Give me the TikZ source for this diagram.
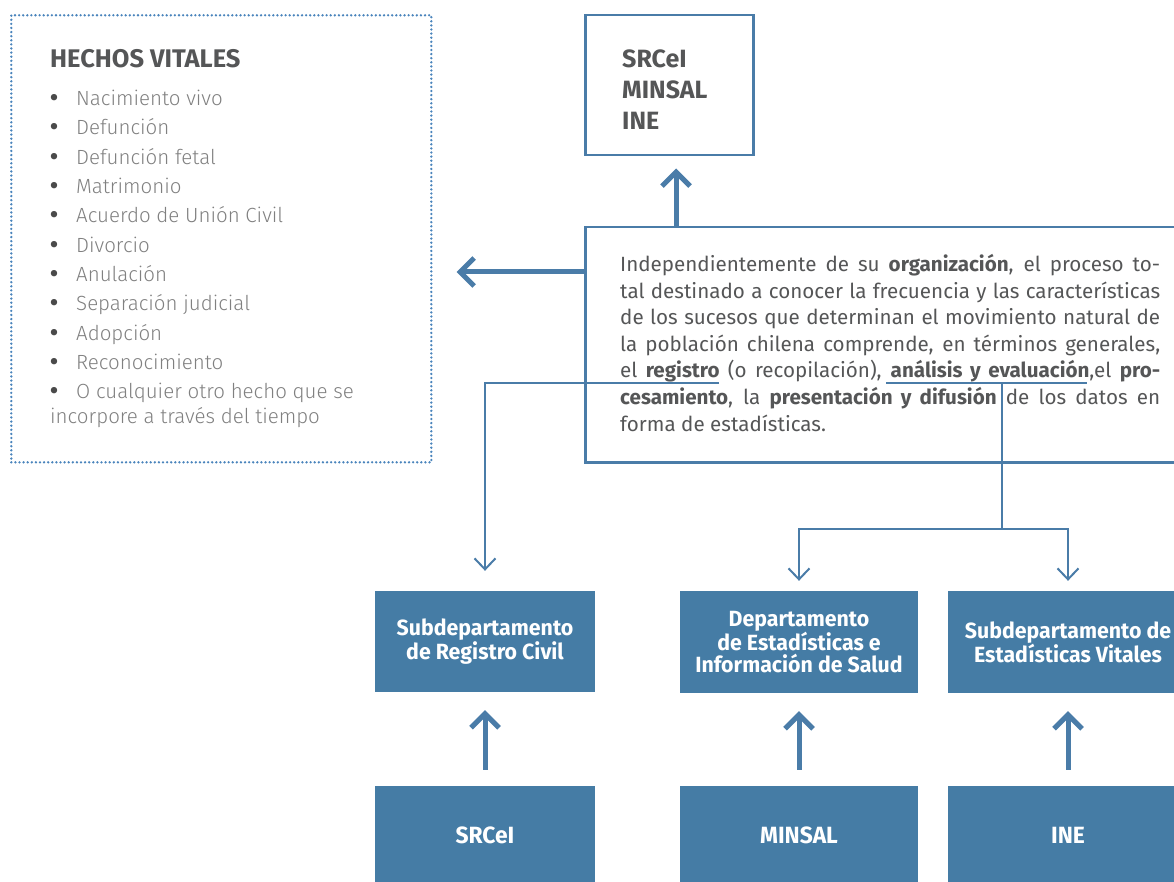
\documentclass[tikz,border=0pt]{standalone}
\usepackage{fontspec}
\setmainfont{Fira Sans}
\newfontfamily\lightfont{Fira Sans Light}
\newfontfamily\parafont{Fira Sans}
\newfontfamily\condfont[FakeStretch=0.97]{Fira Sans}
\usetikzlibrary{arrows.meta}
\definecolor{lineblue}{HTML}{4A7CA8}
\definecolor{dotblue}{HTML}{4A84BC}
\definecolor{boxblue}{HTML}{457CA5}
\definecolor{darktext}{HTML}{555657}
\definecolor{lighttext}{HTML}{808080}
\definecolor{bulletgray}{HTML}{4A4A4A}
\newcommand{\hvbullet}{\makebox[26pt][l]{\hspace{0pt}{\fontspec{Fira Sans Bold}\fontsize{23}{23}\selectfont\color{bulletgray}\char"2022}}}
\tikzset{
  outline/.style={draw=lineblue, line width=2.5pt, fill=white, inner sep=0pt},
  dotbox/.style={draw=dotblue, line width=2.6pt, line cap=round, dash pattern=on 0pt off 4.1pt, inner sep=0pt},
  bluebox/.style={fill=boxblue, text=white, inner sep=0pt, align=center,
    font=\condfont\bfseries\fontsize{22}{21.5}\selectfont},
  bigbluebox/.style={bluebox, font=\condfont\bfseries\fontsize{23.5}{24}\selectfont},
  thickarrow/.style={draw=lineblue, line width=5pt, -{Straight Barb[length=14pt,width=28pt]}},
  thinarrow/.style={draw=lineblue, line width=2pt, -{Straight Barb[length=11pt,width=21pt]}},
  thinline/.style={draw=lineblue, line width=2pt},
}
\begin{document}
\begin{tikzpicture}[x=1pt,y=-1pt]
\useasboundingbox (0,0) rectangle (1174,882);

% Hechos vitales box
\node[dotbox, minimum width=420pt, minimum height=447pt, anchor=north west] (hechos) at (10,14) {};
\node[anchor=base west, inner sep=0pt, text=darktext, font=\bfseries\fontsize{25.5}{28}\selectfont] (hechostitle) at (50,68) {HECHOS VITALES};
\node[anchor=north west, inner sep=0pt, align=left, text=lighttext, font=\lightfont\fontsize{20.5}{29.3}\selectfont] (hechoslist) at (50,90) {%
\hvbullet Nacimiento vivo\\
\hvbullet Defunción\\
\hvbullet Defunción fetal\\
\hvbullet Matrimonio\\
\hvbullet Acuerdo de Unión Civil\\
\hvbullet Divorcio\\
\hvbullet Anulación\\
\hvbullet Separación judicial\\
\hvbullet Adopción\\
\hvbullet Reconocimiento\\
\hvbullet O cualquier otro hecho que se\\[-4.5pt]
incorpore a través del tiempo};

% top box
\node[outline, minimum width=168pt, minimum height=140pt, anchor=north west] (top) at (584,14) {};
\node[anchor=north west, inner sep=0pt, align=left, text=darktext, font=\bfseries\fontsize{25}{31}\selectfont] (toptext) at (622,50) {SRCeI\\MINSAL\\INE};

% paragraph box
\node[outline, minimum width=620pt, minimum height=235pt, anchor=north west] (para) at (584,226) {};
\node[anchor=north west, inner sep=0pt, text width=540pt, align=justify, text=darktext, font=\parafont\fontsize{20.6}{26.6}\selectfont] (paratext) at (620,254) {\noindent
Independientemente de su \textbf{organización}, el proceso to-\linebreak
tal destinado a conocer la frecuencia y las características\linebreak
de los sucesos que determinan el movimiento natural de\linebreak
la población chilena comprende, en términos generales,\linebreak
el \textbf{registro} (o recopilación), \textbf{análisis y evaluación},el \textbf{pro-}\linebreak
\textbf{cesamiento}, la \textbf{presentación y difusión} de los datos en\linebreak
forma de estadísticas.};

% blue boxes
\node[bluebox, minimum width=220pt, minimum height=101pt] (b1) at (485,641.5) {Subdepartamento\\de Registro Civil};
\node[bluebox, minimum width=238pt, minimum height=102pt] (b2) at (799,642) {Departamento\\de Estadísticas e\\Información de Salud};
\node[bluebox, minimum width=240pt, minimum height=102pt] (b3) at (1068,642) {Subdepartamento de\\Estadísticas Vitales};
\node[bigbluebox, minimum width=220pt, minimum height=98pt] (c1) at (485,835) {SRCeI};
\node[bigbluebox, minimum width=238pt, minimum height=98pt] (c2) at (799,835) {MINSAL};
\node[bigbluebox, minimum width=240pt, minimum height=98pt] (c3) at (1068,835) {INE};

% thick arrows
\coordinate (upstart) at (676,226);
\draw[thickarrow, shorten >=12pt] (upstart) -- (upstart |- top.south);
\coordinate (leftstart) at (584,272);
\draw[thickarrow, shorten >=24pt] (leftstart) -- (leftstart -| hechos.east);
\draw[thickarrow, shorten <=16pt, shorten >=18pt] (c1.north) -- (b1.south);
\draw[thickarrow, shorten <=16pt, shorten >=18pt] (c2.north) -- (b2.south);
\draw[thickarrow, shorten <=16pt, shorten >=18pt] (c3.north) -- (b3.south);

% thin connectors
\coordinate (regEnd) at (719,383);
\draw[thinarrow, shorten >=20pt] (regEnd) -| (b1.north);
\coordinate (anaL) at (886,383);
\coordinate (anaR) at (1087,383);
\draw[thinline] (anaL) -- (anaR);
\coordinate (anaJ) at (1002,383);
\coordinate (split) at (1002,529);
\draw[thinline] (anaJ) -- (split);
\draw[thinarrow, shorten >=10pt] (split) -| (b2.north);
\draw[thinarrow, shorten >=10pt] (split) -| (b3.north);
\end{tikzpicture}
\end{document}
